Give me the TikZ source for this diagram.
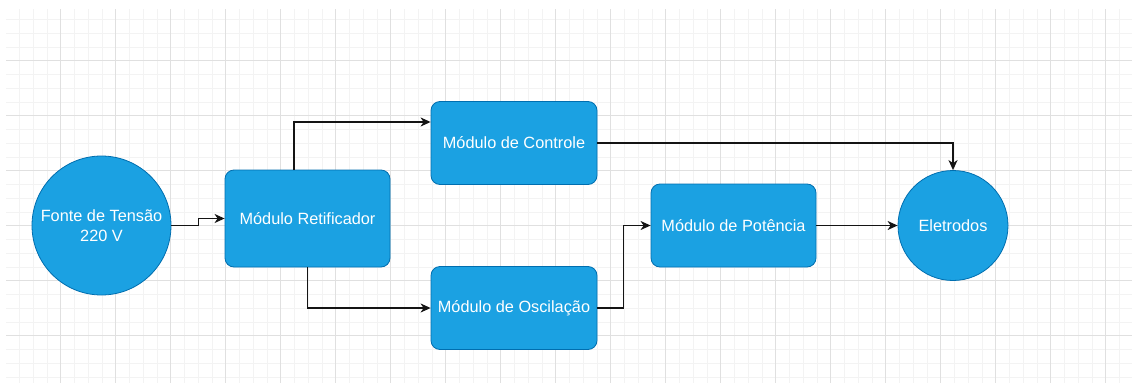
\documentclass[tikz,border=0pt]{standalone}
\usepackage{fontspec}
\setmainfont{Liberation Sans}
\usepackage{tikz}
\usetikzlibrary{arrows.meta,positioning}
\definecolor{boxblue}{RGB}{27,161,226}
\definecolor{boxline}{RGB}{0,110,175}
\definecolor{gridmajor}{RGB}{224,224,224}
\definecolor{gridminor}{RGB}{243,243,243}
\definecolor{wireblack}{RGB}{20,20,20}

\begin{document}
\begin{tikzpicture}[
  x=1pt, y=-1pt,
  font=\fontsize{16.3}{20}\selectfont,
  block/.style={rounded corners=9pt, draw=boxline, fill=boxblue, line width=0.8pt,
                text=white, align=center, inner sep=2pt},
  modblock/.style={block, minimum width=166pt, minimum height=83pt},
  bubble/.style={circle, draw=boxline, fill=boxblue, line width=0.8pt,
                 text=white, align=center, inner sep=1pt},
  arrow/.style={-{Stealth[length=10pt,width=9pt,inset=3pt]}, line width=1.3pt, color=wireblack},
  majorgrid/.style={draw=gridmajor, line width=0.9pt},
  minorgrid/.style={draw=gridminor, line width=0.9pt}
]
\useasboundingbox (0,0) rectangle (1132,383);
\fill[white] (0,0) rectangle (1132,383);

% Background grid
\begin{scope}
  \clip (6,9) rectangle (1132,383);
  \foreach \i in {0,...,82} {
    \draw[minorgrid] (5.7+13.75*\i,9) -- (5.7+13.75*\i,383);
  }
  \foreach \i in {0,...,28} {
    \draw[minorgrid] (6,5.7+13.75*\i) -- (1132,5.7+13.75*\i);
  }
  \foreach \i in {0,...,20} {
    \draw[majorgrid] (5.7+55*\i,9) -- (5.7+55*\i,383);
  }
  \foreach \i in {0,...,7} {
    \draw[majorgrid] (6,5.7+55*\i) -- (1132,5.7+55*\i);
  }
\end{scope}

% Source and rectifier
\node[bubble, minimum size=139pt] (fonte) at (101.5,225.5) {Fonte de Tensão\\220 V};
\node[block, minimum width=165pt, minimum height=97pt] (retif) at (307.5,218.5) {Módulo Retificador};

% Control and oscillation
\node[modblock] (controle) at (514,143) {Módulo de Controle};
\node[modblock] (oscil) at (514,308) {Módulo de Oscilação};

% Power stage and output
\node[block, minimum width=165pt, minimum height=83pt] (potencia) at (733.5,225.5) {Módulo de Potência};
\node[bubble, minimum size=110pt] (eletrodos) at (953,225.5) {Eletrodos};

% Arrows
\draw[arrow] (fonte.east) -- ++(27,0) |- (retif.west);
\draw[arrow] ([xshift=-13.5pt]retif.north) |- ([yshift=21pt]controle.west);
\draw[arrow] (retif.south) |- (oscil.west);
\draw[arrow] (oscil.east) -- ++(26,0) |- (potencia.west);
\draw[arrow] (controle.east) -| (eletrodos.north);
\draw[arrow] (potencia.east) -- (eletrodos.west);

\end{tikzpicture}
\end{document}
